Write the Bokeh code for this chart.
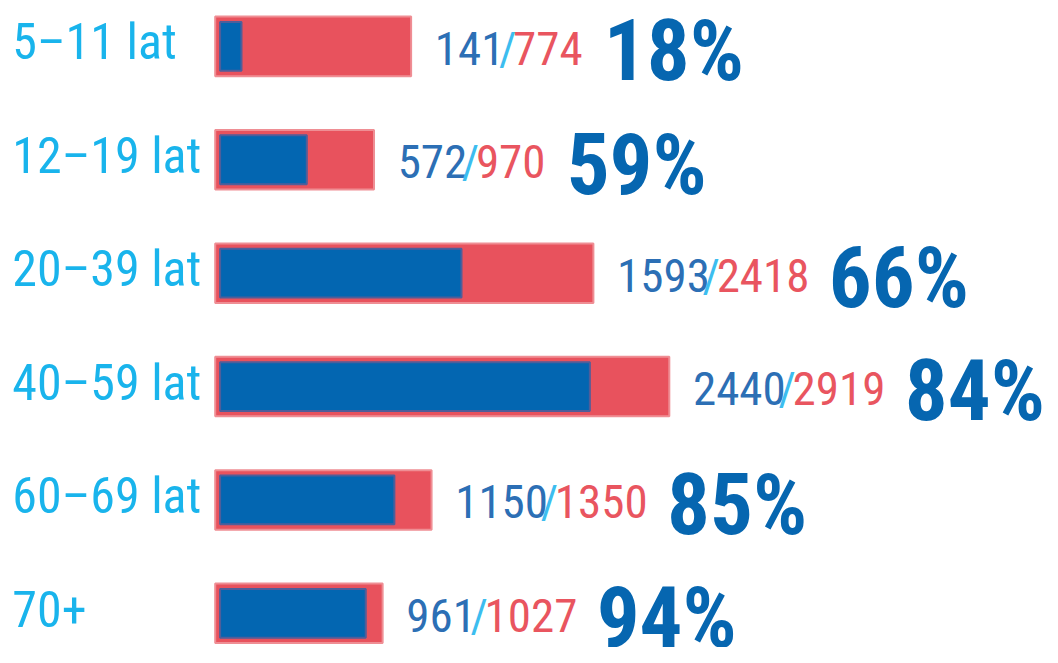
from bokeh.plotting import figure
from bokeh.models import Range1d, ColumnDataSource
from bokeh.core.properties import value
from bokeh.embed import file_html
from bokeh.resources import INLINE

# ---- data ----
groups = ["5–11 lat", "12–19 lat", "20–39 lat", "40–59 lat", "60–69 lat", "70+"]
vaccinated = [141, 572, 1593, 2440, 1150, 961]
totals = [774, 970, 2418, 2919, 1350, 1027]
# red bar lengths as drawn in the picture (the first bar is drawn longer than its total)
red_bar = [1215, 970, 2418, 2919, 1350, 1027]
percents = ["18%", "59%", "66%", "84%", "85%", "94%"]

# ---- layout (designed on a 1058x663 canvas, scaled to the plot size) ----
W, H = 1042, 647
REF_W, REF_H = 1058, 663
sx, sy = W / REF_W, H / REF_H
K = 6.5            # counts per design pixel
ZERO = 223         # design x of zero
ROW0, ROWS = 47, 116.2   # design y of first row centre, row spacing

p = figure(width=W, height=H, output_backend="svg", toolbar_location=None,
           x_range=Range1d(-ZERO * K, (REF_W - ZERO) * K),
           y_range=Range1d((REF_H - ROW0) / ROWS, -ROW0 / ROWS),
           min_border=0, outline_line_color=None)
p.axis.visible = False
p.grid.visible = False

FONT = "Roboto Condensed, Liberation Sans Narrow, DejaVu Sans Condensed, sans-serif"

n = len(groups)
src = ColumnDataSource(dict(
    y=list(range(n)), grp=groups, vac=vaccinated, tot=totals, red=red_bar,
    red_l=[-5 * K] * n, red_r=[r + 7 * K for r in red_bar],
    num=[str(v) for v in vaccinated], den=[str(t) for t in totals],
    pct=percents,
))

# red total bars
p.hbar(y="y", left="red_l", right="red_r", height=61 / ROWS, source=src,
       fill_color="#E8525D", line_color="#EF8E94", line_width=2)
# blue vaccinated bars
p.hbar(y="y", left=0, right="vac", height=50 / ROWS, source=src,
       fill_color="#0366B1", line_color="#4F5E9A", line_width=2)

# left labels
fs_lab = 50
p.text(x=(12 - ZERO) * K, y="y", text="grp", source=src,
       text_font=value(FONT), text_font_size=f"{fs_lab}px", text_color="#19B4EC",
       text_baseline="middle", text_align="left", y_offset=-4 * sy)

# numbers "a/b"
fs_num = 47
dig_w = 0.455 * fs_num
sl_w = 0.30 * fs_num
gap1 = 24 * sx
num_off = [gap1 + len(s) * dig_w for s in src.data["num"]]
src.data["sl_off"] = num_off
src.data["den_off"] = [o + sl_w for o in num_off]
src.data["pct_off"] = [o + sl_w + len(d) * dig_w + 27 * sx
                       for o, d in zip(num_off, src.data["den"])]

common = dict(source=src, text_font=value(FONT), text_font_size=f"{fs_num}px",
              text_baseline="middle", text_align="left", y_offset=2 * sy)
p.text(x="red_r", y="y", text="num", x_offset=gap1, text_color="#2C6FB5", **common)
p.text(x="red_r", y="y", text=value("/"), x_offset="sl_off", text_color="#3CBDEF", **common)
p.text(x="red_r", y="y", text="den", x_offset="den_off", text_color="#E9555F", **common)

# percentages
p.text(x="red_r", y="y", text="pct", source=src, x_offset="pct_off", y_offset=5 * sy,
       text_font=value(FONT), text_font_size="85px", text_font_style="bold",
       text_color="#0666B0", text_baseline="middle", text_align="left")

open("out.html", "w").write(file_html(p, INLINE))
